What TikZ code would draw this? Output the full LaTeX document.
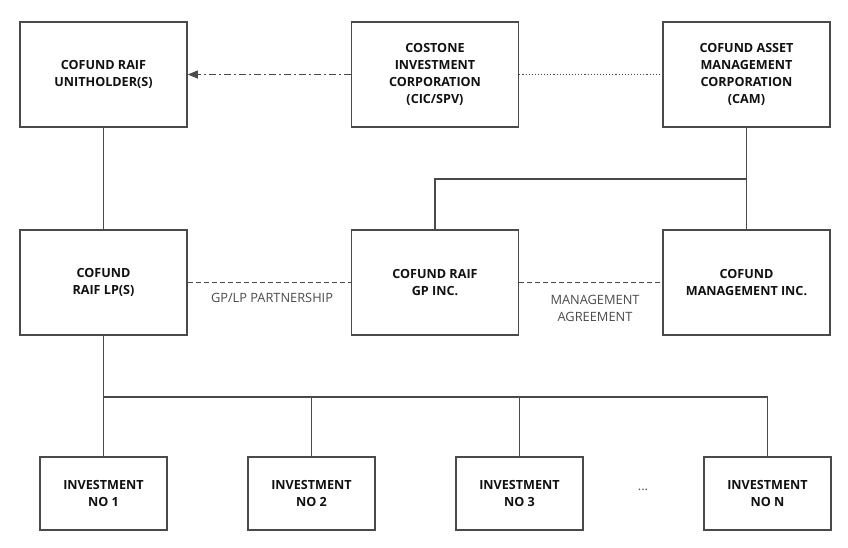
\documentclass[tikz,border=0pt]{standalone}
\usepackage{fontspec}
\setmainfont{Open Sans}
\usetikzlibrary{arrows.meta}
\definecolor{edge}{HTML}{4A4A4A}
\definecolor{txt}{HTML}{111111}
\definecolor{lbl}{HTML}{4A4A4A}
\begin{document}
\begin{tikzpicture}[x=1pt,y=-1pt,
  box/.style={draw=edge,line width=1.6pt,fill=white,align=center,inner sep=2pt,
    font=\fontsize{12.6}{16.8}\selectfont\bfseries,text=txt},
  bigbox/.style={box,minimum width=167pt,minimum height=105pt},
  invbox/.style={box,minimum width=127pt,minimum height=73pt},
  link/.style={draw=edge,line width=1.1pt},
  lab/.style={font=\fontsize{12.8}{17}\selectfont,text=lbl,align=center}]
\useasboundingbox (0,0) rectangle (848,547);
% top row
\node[bigbox] (uh) at (103.5,74.5) {COFUND RAIF\\UNITHOLDER(S)};
\node[bigbox] (cic) at (435,74.5) {COSTONE\\INVESTMENT\\CORPORATION\\(CIC/SPV)};
\node[bigbox] (cam) at (746.5,74.5) {COFUND ASSET\\MANAGEMENT\\CORPORATION\\(CAM)};
% middle row
\node[bigbox] (lp) at (103.5,282.5) {COFUND\\RAIF LP(S)};
\node[bigbox] (gp) at (435,282.5) {COFUND RAIF\\GP INC.};
\node[bigbox] (mgmt) at (746.5,282.5) {COFUND\\MANAGEMENT INC.};
% bottom row
\node[invbox] (i1) at (103.5,493.5) {INVESTMENT\\NO 1};
\node[invbox] (i2) at (311.5,493.5) {INVESTMENT\\NO 2};
\node[invbox] (i3) at (519.5,493.5) {INVESTMENT\\NO 3};
\node[invbox] (in) at (767.5,493.5) {INVESTMENT\\NO N};
\node[lab] (dots) at (643,490) {...};
% connectors
\draw[link,dash pattern=on 7pt off 3pt on 2pt off 3pt,-{Triangle[length=10pt,width=8pt]}] (cic.west) -- (uh.east);
\draw[link,dotted] (cic.east) -- (cam.west);
\draw[link] (uh.south) -- (lp.north);
\coordinate (camj) at (746.5,179);
\draw[link] (cam.south) -- (camj) -| (gp.north);
\draw[link] (camj) -- (mgmt.north);
\draw[link,dash pattern=on 5pt off 3pt] (lp.east) -- (gp.west);
\draw[link,dash pattern=on 5pt off 3pt] (gp.east) -- (mgmt.west);
\coordinate (bus) at (103.5,397);
\draw[link] (lp.south) -- (bus) -- (i1.north);
\draw[link] (bus) -| (i2.north);
\draw[link] (bus) -| (i3.north);
\draw[link] (bus) -| (in.north);
\node[lab] (gplp) at (272,298) {GP/LP PARTNERSHIP};
\node[lab] (magr) at (595,308) {MANAGEMENT\\AGREEMENT};
\end{tikzpicture}
\end{document}
